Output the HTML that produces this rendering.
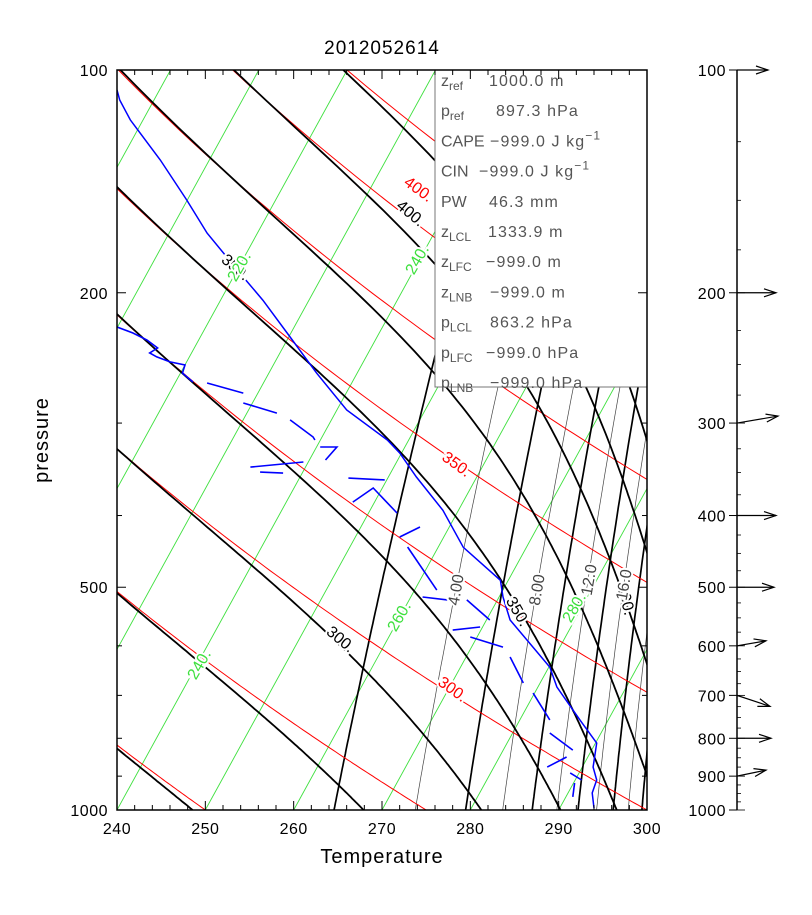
<!DOCTYPE html>
<html><head><meta charset="utf-8"><style>
body{margin:0;background:#fff;}
svg text{font-family:"Liberation Sans",sans-serif;}
</style></head><body>
<svg id="chart" width="812" height="910" viewBox="0 0 812 910" xmlns="http://www.w3.org/2000/svg">
<defs><clipPath id="pc"><rect x="117" y="70" width="530" height="740"/></clipPath></defs>
<rect width="812" height="910" fill="#fff"/>
<g id="bg" clip-path="url(#pc)"></g>
<g id="labels"></g>
<g id="infobox">
<rect x="435" y="70" width="212" height="317" fill="#fff" stroke="#777" stroke-width="1"/>
</g>
<g id="axes"></g>
<g id="wind"></g>
<text x="382" y="54" text-anchor="middle" font-size="19" letter-spacing="1">2012052614</text>
<text x="382" y="863" text-anchor="middle" font-size="20" letter-spacing="1">Temperature</text>
<text transform="translate(48,440) rotate(-90)" text-anchor="middle" font-size="20" letter-spacing="1">pressure</text>
</svg>
<script>
// ---- data ----
const xTicks = [240,250,260,270,280,290,300];
const pLabels = [100,200,500,1000];
const pTicks = [100,200,300,400,500,600,700,800,900,1000];
const thetaLevels = [250,275,300,325,350,375,400,425,450];
const thetaELevels = [250,275,300,325,350,375,400,425,450];
const isotherms = [120,130,140,150,160,170,180,190,200,210,220,230,240,250,260,270,280,290,300];
const mixThick = [2,6,10,14,18,22];
const mixThin = [4,8,12,16,20,24];
// temperature profile (pressure hPa, x-axis temperature K)
const tempP = [106.4,109.8,116.8,132.3,149.9,166.1,190.5,204.6,229.5,256.8,288,316.2,329.3,354.8,393.6,441.6,489.3,515.5,553.7,641,682,755.6,812,875,911,948.5,994];
const tempT = [240.0,240.3,241.5,244.9,247.9,250.2,254.3,256.5,259.6,262.6,266.0,270.6,272.0,273.9,276.9,279.2,283.4,283.7,284.5,289.0,289.8,292.4,294.3,293.9,294.3,293.8,294.0];
// dewpoint profile segments
const dewP = [[222.5,226.7,231.7,237.5,241.2,244.2,248,250.4,256.8,264],[264.8,273.3],[281.8,290.8],[297.1,313.3,316.2],[323.2,323.2,336.5],[344,338.6],[349.4,350.5],[356,358],[383.6,367.2,396.9],[427.6,414.6],[441.2,504.4],[515.5,520.1],[520.1,553.7],[571.3,565.9],[583.8,602.3],[621.3,673.5],[695,755.6],[787,830],[875,848],[891,911],[919.5,960]];
const dewT = [[240,241.8,243.4,244.6,243.7,244.5,246.0,247.7,247.4,248.6],[250.2,254.3],[254.3,258.1],[259.6,262.2,262.4],[263.0,264.9,263.6],[255.1,261.1],[256.2,258.8],[266.2,270.3],[266.7,269.0,271.7],[272.0,274.3],[272.9,276.2],[274.6,277.4],[279.6,282.2],[278.0,281.1],[280.0,283.7],[284.5,286.0],[287.1,289.0],[289.0,291.6],[288.7,290.9],[291.3,292.6],[291.8,291.6]];
// winds
const windP = [100,200,300,400,500,600,700,800,900];
const windU = [15.5,19.5,20.5,19.5,18.5,14.5,16.5,17,14.5];
const windV = [0,0,3.5,0,0,2.5,-5.5,0,3];
const infoNames = [["z","ref"],["p","ref"],["CAPE",""],["CIN",""],["PW",""],["z","LCL"],["z","LFC"],["z","LNB"],["p","LCL"],["p","LFC"],["p","LNB"]];
const infoVals = ["1000.0  m","897.3  hPa","\u2212999.0  J  kg","\u2212999.0  J  kg","46.3  mm","1333.9  m","\u2212999.0  m","\u2212999.0  m","863.2  hPa","\u2212999.0  hPa","\u2212999.0  hPa"];
const infoX = [489,496,490,479,489,488,486,490,490,486,490];

// ---- scales ----
const NS='http://www.w3.org/2000/svg';
function X(t){return 117+(t-240)*530/60;}
function Y(p){return 70+740*Math.log10(p/100);}
function skew(p){return 20*Math.log(1000/p);}
function XT(T,p){return X(T+skew(p));}
function mk(tag,attrs,parent){const e=document.createElementNS(NS,tag);for(const k in attrs)e.setAttribute(k,attrs[k]);parent.appendChild(e);return e;}
const bg=document.getElementById('bg'),labels=document.getElementById('labels'),axes=document.getElementById('axes'),wind=document.getElementById('wind');
const pgrid=[];for(let p=1000;p>=99;p-=5)pgrid.push(p);
function poly(pts,stroke,w,parent,name){const e=mk('polyline',{points:pts.map(q=>q[0].toFixed(1)+','+q[1].toFixed(1)).join(' '),fill:'none',stroke:stroke,'stroke-width':w},parent);


return e;}
function es(T){return 6.112*Math.exp(17.67*(T-273.15)/(T-29.65));}
function thetaESat(T,p){const e=es(T);const r=1000*0.622*e/Math.max(p-e,1);return T*Math.pow(1000/p,0.2854*(1-0.00028*r))*Math.exp((3.376/T-0.00254)*r*(1+0.00081*r));}
function solveTE(te,p){let lo=150,hi=300;for(let i=0;i<50;i++){const m=(lo+hi)/2;if(thetaESat(m,p)<te)lo=m;else hi=m;}return (lo+hi)/2;}
function tdFromR(r,p){const e=r*p/(622+r);const l=Math.log(e/6.112);return 273.15+243.5*l/(17.67-l);}

isotherms.forEach(T=>{poly([[XT(T,1000),Y(1000)],[XT(T,100),Y(100)]],'#3ee03e',0.9,bg,'isotherm-'+T);});
mixThin.forEach(r=>{const pts=[];for(let p=1000;p>=200;p-=10)pts.push([XT(tdFromR(r,p),p),Y(p)]);poly(pts,'#444',0.7,bg,'mixing-ratio-'+r);});
mixThick.forEach(r=>{const pts=[];for(let p=1000;p>=200;p-=10)pts.push([XT(tdFromR(r,p),p),Y(p)]);poly(pts,'#000',1.7,bg,'mixing-ratio-'+r);});
thetaLevels.forEach(th=>{const pts=pgrid.map(p=>[XT(th*Math.pow(p/1000,0.286),p),Y(p)]);poly(pts,'#ff0000',1,bg,'dry-adiabat-'+th);});
thetaELevels.forEach(te=>{const pts=pgrid.map(p=>[XT(solveTE(te,p),p),Y(p)]);poly(pts,'#000',1.8,bg,'moist-adiabat-'+te);});
poly(tempP.map((p,i)=>[X(tempT[i]),Y(p)]),'#0000ff',1.5,bg,'temperature-profile');
dewP.forEach((seg,j)=>{poly(seg.map((p,i)=>[X(dewT[j][i]),Y(p)]),'#0000ff',1.6,bg,'dewpoint-segment');});

function lab(txt,x,y,rot,col,name){const t=mk('text',{x:x,y:y,transform:'rotate('+rot+' '+x+' '+y+')','text-anchor':'middle','dominant-baseline':'middle','font-size':'16',fill:col,stroke:'#fff','stroke-width':'4','paint-order':'stroke'},labels);t.textContent=txt;

}
lab('300.',452,690,36,'#ff0000','dry-adiabat-label');
lab('350.',456,465,36,'#ff0000','dry-adiabat-label');
lab('400.',418,190,36,'#ff0000','dry-adiabat-label');
lab('300.',340,640,40,'#000','moist-adiabat-label');
lab('350.',235,268,40,'#000','moist-adiabat-label');
lab('350.',517,612,60,'#000','moist-adiabat-label');
lab('400.',410,214,40,'#000','moist-adiabat-label');
lab('400.',625,600,75,'#000','moist-adiabat-label');
lab('240.',200,665,-60,'#3ee03e','isotherm-label');
lab('260.',400,617,-60,'#3ee03e','isotherm-label');
lab('280.',575,608,-60,'#3ee03e','isotherm-label');
lab('220.',240,267,-60,'#3ee03e','isotherm-label');
lab('240.',418,260,-60,'#3ee03e','isotherm-label');
lab('4.00',457,590,-80,'#444','mixing-ratio-label');
lab('8.00',538,590,-80,'#444','mixing-ratio-label');
lab('12.0',590,580,-80,'#444','mixing-ratio-label');
lab('16.0',625,585,-80,'#444','mixing-ratio-label');

const ib=document.getElementById('infobox');
infoNames.forEach((n,i)=>{const y=86+i*30.2;
 const t=mk('text',{x:441,y:y,'font-size':'16',fill:'#555'},ib);
 
 
 const a=mk('tspan',{},t);a.textContent=n[0];
 if(n[1]){const b=mk('tspan',{'font-size':'12',dy:'4'},t);b.textContent=n[1];}
 const v=mk('text',{x:infoX[i],y:y,'font-size':'16',fill:'#555','letter-spacing':'1.1','xml:space':'preserve'},ib);
 
 
 v.textContent=infoVals[i];
 if(i===2||i===3){const s=mk('tspan',{'font-size':'12',dy:'-7'},v);s.textContent='\u22121';}
});

const fr=mk('rect',{x:117,y:70,width:530,height:740,fill:'none',stroke:'#000','stroke-width':1.5},axes);


for(let t=240;t<=300;t+=2){const x=X(t);const L=(t%10===0)?9:5;
 mk('line',{x1:x,y1:810,x2:x,y2:810-L,stroke:'#000','stroke-width':1},axes);
 mk('line',{x1:x,y1:70,x2:x,y2:70+L,stroke:'#000','stroke-width':1},axes);}
xTicks.forEach(t=>{const e=mk('text',{x:X(t),y:834,'text-anchor':'middle','font-size':'16','letter-spacing':'0.5'},axes);e.textContent=t;
 
 });
pTicks.forEach(p=>{const y=Y(p);const L=pLabels.includes(p)?9:5;
 mk('line',{x1:117,y1:y,x2:117+L,y2:y,stroke:'#000','stroke-width':1},axes);
 mk('line',{x1:647,y1:y,x2:647-L,y2:y,stroke:'#000','stroke-width':1},axes);});
pLabels.forEach(p=>{const e=mk('text',{x:108,y:Y(p)+6,'text-anchor':'end','font-size':'16','letter-spacing':'0.5'},axes);e.textContent=p;
 
 });

const wa=mk('line',{x1:737,y1:70,x2:737,y2:810,stroke:'#000','stroke-width':1.5},wind);


for(let p=100;p<=1000;p+=25){const y=Y(p);mk('line',{x1:737,y1:y,x2:p%100===0?745:741,y2:y,stroke:'#000','stroke-width':0.8},wind);}
pTicks.forEach(p=>{const y=Y(p);mk('line',{x1:729,y1:y,x2:737,y2:y,stroke:'#000','stroke-width':1},wind);
 const e=mk('text',{x:726,y:y+6,'text-anchor':'end','font-size':'16','letter-spacing':'0.5'},wind);e.textContent=p;
 
 });
windP.forEach((p,i)=>{const x0=737,y0=Y(p);const dx=windU[i]*2,dy=-windV[i]*2;const x1=x0+dx,y1=y0+dy;
 const L=Math.hypot(dx,dy),ux=dx/L,uy=dy/L;const h=12,w=4;
 const g=mk('g',{},wind);
 
 
 mk('line',{x1:x0,y1:y0,x2:x1,y2:y1,stroke:'#000','stroke-width':1.2},g);
 mk('polyline',{points:(x1-h*ux-w*uy)+','+(y1-h*uy+w*ux)+' '+x1+','+y1+' '+(x1-h*ux+w*uy)+','+(y1-h*uy-w*ux),fill:'none',stroke:'#000','stroke-width':1.2},g);});
</script>
</body></html>
